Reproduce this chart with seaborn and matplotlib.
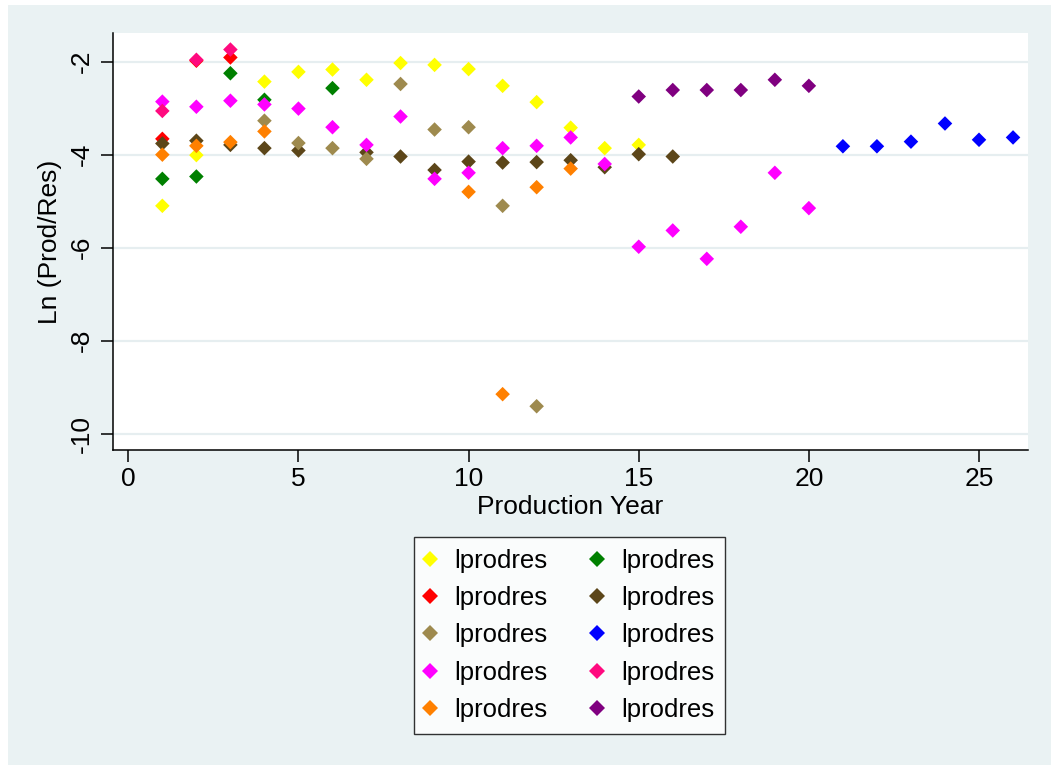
import pandas as pd
import numpy as np
import matplotlib.pyplot as plt
import seaborn as sns
from matplotlib.patches import Rectangle

# 1. Data, series in Stata draw order
s1_year = [1, 2, 4, 5, 6, 7, 8, 9, 10, 11, 12, 13, 14, 15]
s1_val = [-5.10, -4.01, -2.43, -2.22, -2.17, -2.39, -2.03, -2.07, -2.16, -2.52, -2.87, -3.42, -3.86, -3.79]

s2_year = [1, 2, 3, 4, 6]
s2_val = [-4.52, -4.47, -2.25, -2.82, -2.57]

s3_year = [1, 2, 3]
s3_val = [-3.66, -1.98, -1.91]

s4_year = [1, 2, 3, 4, 5, 7, 8, 9, 10, 11, 12, 13, 14, 15, 16]
s4_val = [-3.76, -3.70, -3.79, -3.86, -3.91, -3.95, -4.04, -4.33, -4.15, -4.17, -4.16, -4.12, -4.27, -3.99, -4.04]

s5_year = [4, 5, 6, 7, 8, 9, 10, 11, 12]
s5_val = [-3.27, -3.75, -3.86, -4.09, -2.48, -3.46, -3.41, -5.10, -9.41]

s6_year = [21, 22, 23, 24, 25, 26]
s6_val = [-3.82, -3.82, -3.72, -3.33, -3.68, -3.63]

s7_year = list(range(1, 21))
s7_val = [-2.86, -2.97, -2.84, -2.92, -3.01, -3.41, -3.79, -3.18, -4.52, -4.39,
          -3.86, -3.81, -3.63, -4.20, -5.98, -5.63, -6.24, -5.55, -4.39, -5.15]

s8_year = [1, 2, 3]
s8_val = [-3.06, -1.96, -1.74]

s9_year = [1, 2, 3, 4, 10, 11, 12, 13]
s9_val = [-4.00, -3.81, -3.73, -3.50, -4.80, -9.15, -4.70, -4.30]

s10_year = [15, 16, 17, 18, 19, 20]
s10_val = [-2.75, -2.61, -2.61, -2.61, -2.39, -2.52]

years = [s1_year, s2_year, s3_year, s4_year, s5_year, s6_year, s7_year, s8_year, s9_year, s10_year]
vals = [s1_val, s2_val, s3_val, s4_val, s5_val, s6_val, s7_val, s8_val, s9_val, s10_val]
colors = ['#FFFF00', '#008000', '#FF0000', '#5C4619', '#9E8A4E',
          '#0000FF', '#FF00FF', '#FF0A7F', '#FF8000', '#800080']

frames = []
for i, (yr, v) in enumerate(zip(years, vals)):
    frames.append(pd.DataFrame({'year': yr, 'lprodres': v, 'series': f's{i + 1}'}))
df = pd.concat(frames, ignore_index=True)

# 2. Style
sns.set_style('white')
plt.rcParams['font.family'] = ['Liberation Sans', 'DejaVu Sans']
plt.rcParams['axes.unicode_minus'] = False
plt.rcParams['text.color'] = 'black'
plt.rcParams['axes.labelcolor'] = 'black'
plt.rcParams['xtick.color'] = 'black'
plt.rcParams['ytick.color'] = 'black'

fig = plt.figure(figsize=(10.51, 7.65), dpi=100, facecolor='white')
fig.patches.append(Rectangle((8 / 1051, 0), 1, 1 - 5 / 765, transform=fig.transFigure,
                             facecolor='#EAF2F3', edgecolor='none', zorder=-10))
ax = fig.add_axes([0.1072, 0.4118, 0.8706, 0.5447])
ax.set_facecolor('white')

# 3. Scatter
sns.scatterplot(data=df, x='year', y='lprodres', hue='series',
                palette=dict(zip([f's{i + 1}' for i in range(10)], colors)),
                marker='D', s=55, linewidth=0, ax=ax, zorder=3)

ax.set_xlim(-0.46, 26.43)
ax.set_ylim(-10.35, -1.39)
ax.set_xticks([0, 5, 10, 15, 20, 25])
ax.set_yticks([-10, -8, -6, -4, -2])
ax.set_yticklabels(['-10', '-8', '-6', '-4', '-2'], rotation=90, va='center')
ax.grid(axis='y', color='#E6EEF0', linewidth=1.6)
ax.set_axisbelow(True)
for side in ['top', 'right']:
    ax.spines[side].set_visible(False)
for side in ['left', 'bottom']:
    ax.spines[side].set_color('black')
    ax.spines[side].set_linewidth(1.1)
ax.tick_params(axis='both', direction='out', length=8.5, width=1.1, color='black',
               labelcolor='black', labelsize=19, left=True, bottom=True)
ax.tick_params(axis='y', pad=5)
ax.tick_params(axis='x', pad=4)

ax.set_xlabel('Production Year', fontsize=19, color='black')
ax.set_ylabel('Ln (Prod/Res)', fontsize=19, color='black')
ax.xaxis.set_label_coords(0.5, -0.108)
ax.yaxis.set_label_coords(-0.0554, 0.5)

# 4. Legend (row-wise like Stata -> reorder for column fill)
handles, _ = ax.get_legend_handles_labels()
order = [0, 2, 4, 6, 8, 1, 3, 5, 7, 9]
hs = [handles[i] for i in order]
leg = ax.legend(hs, ['lprodres'] * 10, ncol=2, loc='upper center',
                bbox_to_anchor=(0.5419, 0.298), bbox_transform=fig.transFigure,
                borderaxespad=0, fontsize=18.5, frameon=True, fancybox=False,
                edgecolor='black', handlelength=0.4, handletextpad=0.74,
                columnspacing=1.71, labelspacing=0.52, borderpad=0.45,
                markerscale=1.1)
leg.get_frame().set_linewidth(1.0)
for t in leg.get_texts():
    t.set_color('black')

fig.savefig('out.png', dpi=100, facecolor=fig.get_facecolor())
